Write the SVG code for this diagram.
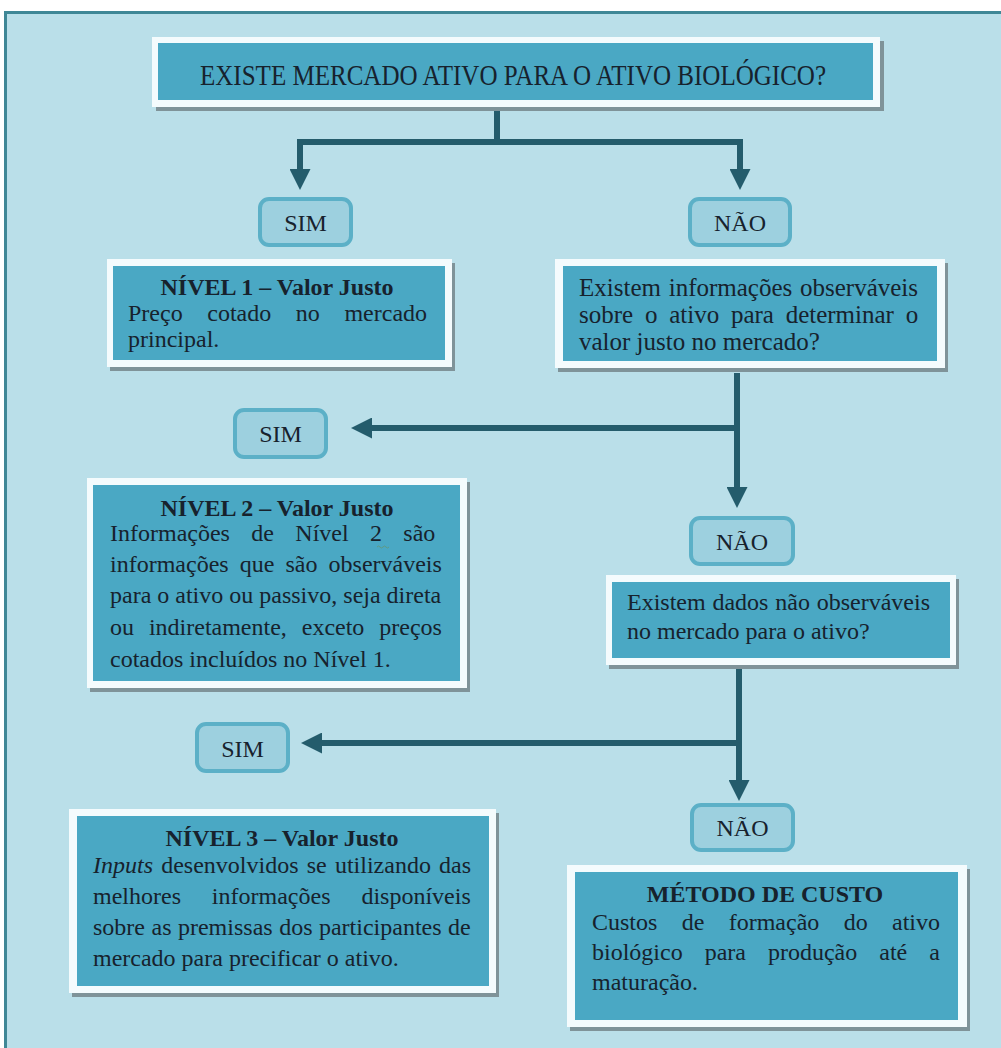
<svg xmlns="http://www.w3.org/2000/svg" width="1001" height="1048" viewBox="0 0 1001 1048">
<defs>
<style>
.frame{fill:#badfe9;stroke:#3f8796;stroke-width:3}
.sh{fill:#7f9399}
.wb{fill:#f4fbfd}
.tb{fill:#4aa8c4}
.pill{fill:#9dd0df;stroke:#5cb0c7;stroke-width:4}
.t{font-family:"Liberation Serif","Times New Roman",serif;font-size:24px;fill:#17222d}
.b{font-weight:bold}
.c{text-anchor:middle}
.conn{stroke:#245c6c;stroke-width:6;fill:none;stroke-linejoin:miter}
</style>
<marker id="ah" markerUnits="userSpaceOnUse" markerWidth="21" markerHeight="21" viewBox="0 0 20 20" refX="0" refY="10" orient="auto">
<path d="M0,0 L20,10 L0,20 Z" fill="#245c6c"/>
</marker>
</defs>
<rect x="0" y="0" width="1001" height="1048" fill="#ffffff"/>
<rect class="frame" x="5.5" y="12.5" width="1010" height="1050"/>

<g id="connectors">
<path class="conn" d="M497,108 V142"/>
<path class="conn" d="M740,142 H300 V169" marker-end="url(#ah)"/>
<path class="conn" d="M300,142 H740 V169" marker-end="url(#ah)"/>
<path class="conn" d="M737,373 V487" marker-end="url(#ah)"/>
<path class="conn" d="M737,428 H372" marker-end="url(#ah)"/>
<path class="conn" d="M739,666 V780" marker-end="url(#ah)"/>
<path class="conn" d="M739,743 H322" marker-end="url(#ah)"/>
</g>

<g id="q1">
<rect class="sh" x="156" y="41" width="728" height="70"/>
<rect class="wb" x="152" y="37" width="728" height="70"/>
<rect class="tb" x="158" y="43" width="715" height="57"/>
<text class="t c" x="513" y="85" style="font-size:30px" textLength="626" lengthAdjust="spacingAndGlyphs">EXISTE MERCADO ATIVO PARA O ATIVO BIOLÓGICO?</text>
</g>

<g id="sim1">
<rect class="pill" x="260" y="199" width="91" height="46" rx="9"/>
<text class="t c" x="305.5" y="231">SIM</text>
</g>
<g id="nao1">
<rect class="pill" x="690" y="199" width="100" height="46" rx="9"/>
<text class="t c" x="740" y="231">NÃO</text>
</g>

<g id="nivel1">
<rect class="sh" x="110" y="263" width="345" height="108"/>
<rect class="wb" x="107" y="259" width="345" height="108"/>
<rect class="tb" x="113" y="266" width="332" height="94"/>
<text class="t b c" x="277" y="295">NÍVEL 1 – Valor Justo</text>
<text class="t" x="128" y="321" word-spacing="18.6">Preço cotado no mercado</text>
<text class="t" x="128" y="347">principal.</text>
</g>

<g id="q2">
<rect class="sh" x="558" y="263" width="390" height="109"/>
<rect class="wb" x="555" y="259" width="390" height="109"/>
<rect class="tb" x="563" y="266" width="374" height="95"/>
<text class="t" x="579" y="296" style="font-size:25px" word-spacing="1.5">Existem informações observáveis</text>
<text class="t" x="579" y="323" style="font-size:25px" word-spacing="5.5">sobre o ativo para determinar o</text>
<text class="t" x="579" y="350" style="font-size:25px">valor justo no mercado?</text>
</g>

<g id="sim2">
<rect class="pill" x="235" y="410" width="91" height="47" rx="9"/>
<text class="t c" x="280.5" y="442">SIM</text>
</g>

<g id="nivel2">
<rect class="sh" x="90" y="482" width="380" height="210"/>
<rect class="wb" x="87" y="478" width="380" height="210"/>
<rect class="tb" x="93" y="485" width="367" height="196"/>
<text class="t b c" x="277" y="516">NÍVEL 2 – Valor Justo</text>
<text class="t" x="110" y="541" word-spacing="15.35">Informações de Nível 2 são</text>
<path d="M377,547 q1.5,-2 3,0 t3,0 t3,0 t3,0" fill="none" stroke="#5f9a84" stroke-width="1"/>
<text class="t" x="110" y="572" word-spacing="5.1">informações que são observáveis</text>
<text class="t" x="110" y="603">para o ativo ou passivo, seja direta</text>
<text class="t" x="110" y="635" word-spacing="8.9">ou indiretamente, exceto preços</text>
<text class="t" x="110" y="667">cotados incluídos no Nível 1.</text>
</g>

<g id="nao2">
<rect class="pill" x="691" y="518" width="102" height="46" rx="9"/>
<text class="t c" x="742" y="550">NÃO</text>
</g>

<g id="q3">
<rect class="sh" x="609" y="579" width="350" height="90"/>
<rect class="wb" x="606" y="575" width="350" height="90"/>
<rect class="tb" x="612" y="582" width="338" height="76"/>
<text class="t" x="627" y="610" word-spacing="0.8">Existem dados não observáveis</text>
<text class="t" x="627" y="639">no mercado para o ativo?</text>
</g>

<g id="sim3">
<rect class="pill" x="197" y="724" width="91" height="47" rx="9"/>
<text class="t c" x="242.5" y="757">SIM</text>
</g>

<g id="nao3">
<rect class="pill" x="692" y="805" width="101" height="45" rx="9"/>
<text class="t c" x="742.5" y="836">NÃO</text>
</g>

<g id="nivel3">
<rect class="sh" x="72" y="813" width="427" height="184"/>
<rect class="wb" x="69" y="809" width="427" height="184"/>
<rect class="tb" x="77" y="816" width="412" height="170"/>
<text class="t b c" x="282" y="846">NÍVEL 3 – Valor Justo</text>
<text class="t" x="93" y="873" word-spacing="2.2"><tspan font-style="italic">Inputs</tspan> desenvolvidos se utilizando das</text>
<text class="t" x="93" y="904" word-spacing="24.9">melhores informações disponíveis</text>
<text class="t" x="93" y="935" word-spacing="0.5">sobre as premissas dos participantes de</text>
<text class="t" x="93" y="966">mercado para precificar o ativo.</text>
</g>

<g id="custo">
<rect class="sh" x="570" y="869" width="400" height="162"/>
<rect class="wb" x="567" y="865" width="400" height="162"/>
<rect class="tb" x="575" y="872" width="383" height="148"/>
<text class="t b c" x="765" y="902">MÉTODO DE CUSTO</text>
<text class="t" x="592" y="930" word-spacing="18.35">Custos de formação do ativo</text>
<text class="t" x="592" y="960" word-spacing="16">biológico para produção até a</text>
<text class="t" x="592" y="990">maturação.</text>
</g>
</svg>
